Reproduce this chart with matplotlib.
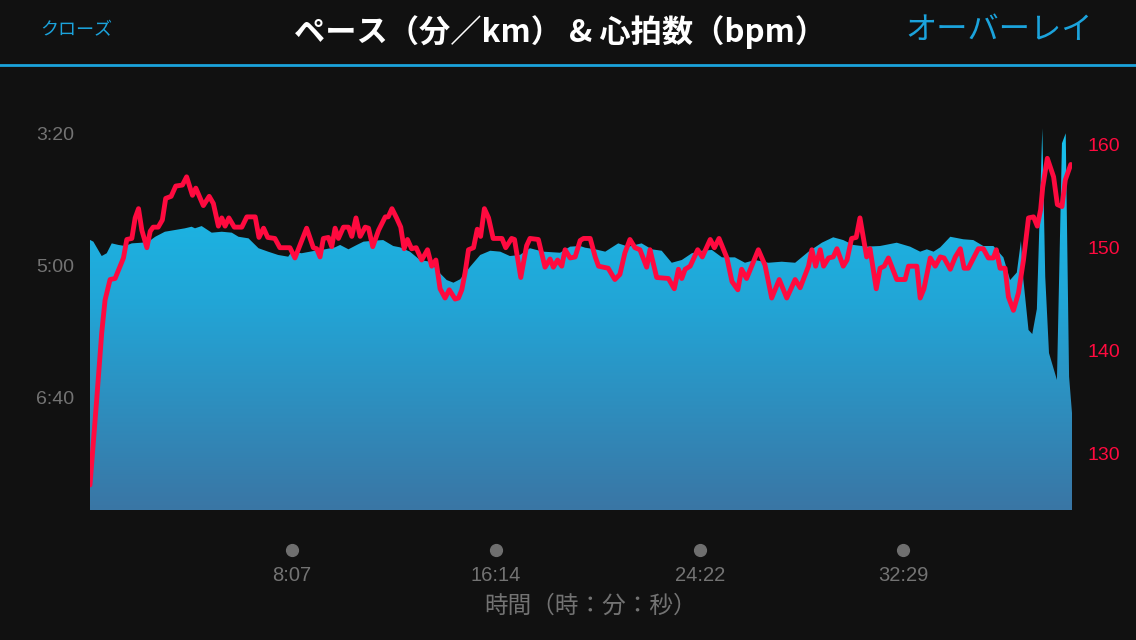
import matplotlib
matplotlib.use("Agg")
import matplotlib.pyplot as plt
import numpy as np
from matplotlib.colors import LinearSegmentedColormap
from matplotlib.lines import Line2D
from matplotlib.transforms import blended_transform_factory

# elapsed time (s) / pace (s per km)
pace_time = [4, 12, 32, 44, 56, 72, 88, 104, 128, 144, 160, 183, 207, 231, 247, 255,
             271, 295, 319, 343, 359, 383, 407, 430, 454, 478, 486, 510, 542, 566, 590,
             602, 622, 642, 658, 682, 705, 729, 745, 769, 793, 817, 841, 857, 873, 889,
             913, 937, 961, 985, 1008, 1032, 1056, 1088, 1128, 1152, 1176, 1188, 1212,
             1236, 1267, 1291, 1323, 1347, 1371, 1395, 1419, 1443, 1467, 1491, 1515,
             1546, 1570, 1594, 1626, 1658, 1690, 1722, 1754, 1781, 1805, 1829, 1861,
             1893, 1933, 1965, 1989, 2005, 2021, 2037, 2061, 2092, 2116, 2140, 2164,
             2188, 2204, 2220, 2230, 2235, 2248, 2257, 2268, 2281, 2288, 2297, 2316,
             2328, 2337, 2345, 2352]
pace_sec = [281, 282.3, 293.2, 291.1, 283.6, 284.8, 285.6, 283.6, 283.1, 282.3, 278.6,
            274.8, 273.5, 272.2, 271.0, 272.2, 270.5, 275.5, 274.8, 275.5, 278.6, 279.8,
            287.3, 289.9, 292.4, 293.7, 289.9, 291.1, 289.2, 288.1, 286.6, 284.8, 288.1,
            284.8, 282.3, 281.6, 281.1, 285.6, 286.6, 289.9, 296.2, 297.5, 306.3, 311.4,
            313.4, 310.8, 301.3, 292.4, 289.2, 289.9, 293.2, 292.4, 287.3, 289.9, 290.7,
            286.1, 285.6, 286.9, 288.1, 289.9, 283.6, 286.1, 283.6, 288.1, 289.2, 298.3,
            296.2, 291.1, 289.2, 288.6, 294.2, 294.2, 298.3, 296.2, 298.3, 297.5, 298.3,
            289.9, 283.1, 279.0, 281.1, 284.8, 286.1, 285.6, 283.1, 286.1, 289.9, 288.1,
            289.9, 286.6, 278.6, 280.5, 281.1, 285.6, 285.6, 294.2, 311.4, 305.7, 281.8,
            308.9, 349.2, 352.3, 333.3, 196.4, 308.9, 366.7, 387.1, 207.8, 200.2, 384.6,
            412.1]

# elapsed time (s) / heart rate (bpm)
hr_time = [4, 20, 32, 40, 52, 64, 76, 84, 92, 104, 112, 120, 128, 140, 148, 155, 167,
           177, 185, 198, 209, 225, 235, 249, 257, 275, 289, 299, 311, 319, 327, 336, 349,
           367, 379, 399, 408, 419, 429, 446, 458, 482, 494, 522, 538, 546, 554, 562, 574,
           582, 590, 598, 610, 622, 630, 640, 650, 662, 670, 680, 694, 710, 717, 726, 737,
           747, 755, 763, 773, 784, 797, 811, 821, 831, 841, 853, 863, 877, 885, 893, 901,
           909, 921, 930, 938, 947, 957, 968, 989, 998, 1012, 1019, 1034, 1048, 1056, 1076,
           1092, 1104, 1112, 1122, 1132, 1140, 1152, 1164, 1176, 1184, 1200, 1212, 1220,
           1243, 1259, 1271, 1283, 1295, 1307, 1319, 1335, 1343, 1359, 1387, 1401, 1411,
           1419, 1427, 1439, 1457, 1468, 1487, 1497, 1508, 1527, 1539, 1553, 1562, 1574,
           1602, 1618, 1634, 1652, 1670, 1690, 1702, 1722, 1730, 1739, 1750, 1758, 1770,
           1781, 1790, 1805, 1814, 1825, 1836, 1845, 1861, 1869, 1884, 1893, 1903, 1913,
           1933, 1953, 1961, 1981, 1989, 1998, 2013, 2025, 2037, 2046, 2061, 2073, 2085,
           2094, 2104, 2128, 2140, 2152, 2164, 2171, 2180, 2192, 2200, 2212, 2224, 2236,
           2248, 2260, 2269, 2277, 2282, 2293, 2308, 2317, 2328, 2336, 2349]
hr_bpm = [126.9, 135.2, 141.7, 144.9, 146.9, 147.0, 148.2, 149.0, 150.8, 150.9, 152.9,
          153.8, 151.7, 150.0, 151.6, 152.0, 152.0, 152.7, 154.8, 155.0, 156.0, 156.1,
          156.9, 155.1, 155.8, 154.1, 155.0, 154.3, 152.1, 152.9, 152.1, 152.9, 152.0,
          152.0, 153.0, 153.0, 151.0, 151.9, 151.0, 150.9, 150.0, 150.0, 149.0, 151.9,
          150.0, 149.9, 149.1, 150.9, 151.0, 150.1, 151.9, 150.9, 152.0, 152.0, 151.1,
          152.9, 151.1, 152.0, 151.9, 150.1, 151.7, 153.0, 153.0, 153.8, 152.9, 152.0,
          149.9, 150.8, 149.9, 150.0, 148.8, 149.8, 148.2, 148.8, 146.0, 145.1, 145.9,
          145.0, 145.1, 145.9, 147.6, 149.8, 150.0, 151.8, 151.1, 153.8, 152.9, 150.9,
          150.9, 150.0, 150.9, 150.8, 147.1, 150.2, 150.9, 150.8, 148.1, 148.9, 148.1,
          148.8, 148.2, 149.8, 149.0, 149.1, 150.7, 150.9, 150.9, 149.1, 148.2, 148.0,
          146.9, 147.4, 149.5, 150.8, 150.0, 149.8, 148.1, 149.8, 147.1, 147.0, 146.0,
          147.9, 147.0, 147.9, 148.2, 149.8, 149.1, 150.8, 150.0, 150.9, 149.0, 146.7,
          145.9, 147.9, 147.0, 149.8, 148.3, 145.1, 146.9, 145.1, 146.9, 146.1, 148.2,
          149.8, 148.2, 149.8, 148.2, 149.0, 149.1, 149.9, 148.2, 148.8, 150.9, 151.0,
          152.9, 149.1, 149.9, 146.0, 148.0, 148.2, 149.0, 146.9, 146.9, 148.2, 148.2,
          145.1, 146.0, 149.0, 148.2, 149.1, 149.0, 147.9, 149.1, 149.9, 148.0, 148.0,
          149.9, 149.9, 149.0, 149.0, 149.8, 148.0, 148.0, 145.2, 143.9, 145.6, 148.8,
          152.9, 153.0, 152.1, 153.7, 155.9, 158.7, 156.9, 154.2, 154.0, 156.6, 158.1]

pace_ticks = [200, 300, 400]
hr_ticks = [130, 140, 150, 160]
time_ticks = [487, 974, 1462, 1949]

title = "ペース（分／km） & 心拍数（bpm）"
left_btn = "クローズ"
right_btn = "オーバーレイ"
xlabel = "時間（時：分：秒）"


def mmss(s):
    s = int(round(s))
    return f"{s // 60}:{s % 60:02d}"


BG = "#111111"
CYAN = "#1ba3dc"
RED = "#ff0a3f"
GREY = "#737373"
JP = ["Noto Sans CJK JP", "DejaVu Sans"]

plt.rcParams["font.family"] = ["Liberation Sans", "Noto Sans CJK JP", "DejaVu Sans"]

W, H = 1136, 640
fig = plt.figure(figsize=(W / 100, H / 100), dpi=100, facecolor=BG)

# plot area in pixels: x 90..1072, y 100..510
ax = fig.add_axes([90 / W, 1 - 510 / H, (1072 - 90) / W, 410 / H])
ax.set_facecolor(BG)
for sp in ax.spines.values():
    sp.set_visible(False)

pace_lo, pace_hi = 485.6, 175.0   # bottom, top
hr_lo, hr_hi = 124.46, 164.38
t0, t1 = 4, 2352

# pace area with vertical gradient
fill = ax.fill_between(pace_time, pace_sec, pace_lo, facecolor="none", edgecolor="none")
cmap = LinearSegmentedColormap.from_list("pace", ["#14c6f2", "#22a5d6", "#3a76a5"])
grad = np.linspace(0, 1, 256).reshape(-1, 1)
img = ax.imshow(grad, cmap=cmap, aspect="auto", origin="upper",
                extent=(t0, t1, pace_lo, pace_hi), interpolation="bicubic")
img.set_clip_path(fill.get_paths()[0], ax.transData)

ax.set_xlim(t0, t1)
ax.set_ylim(pace_lo, pace_hi)
ax.set_yticks(pace_ticks)
ax.set_yticklabels([mmss(v) for v in pace_ticks])
ax.tick_params(axis="y", length=0, pad=11.5, labelsize=14, labelcolor=GREY)

ax.set_xticks(time_ticks)
ax.set_xticklabels([mmss(v) for v in time_ticks])
ax.tick_params(axis="x", length=0, pad=40, labelsize=14.5, labelcolor=GREY)

# tick dots under the axis
tr = blended_transform_factory(ax.transData, ax.transAxes)
ax.plot(time_ticks, [-40 / 410] * len(time_ticks), "o", color="#6f6f6f",
        markersize=8.5, transform=tr, clip_on=False)

# heart rate on the right axis
ax2 = ax.twinx()
for sp in ax2.spines.values():
    sp.set_visible(False)
ax2.plot(hr_time, hr_bpm, color=RED, lw=3.5, solid_joinstyle="round",
         solid_capstyle="round")
ax2.set_ylim(hr_lo, hr_hi)
ax2.set_yticks(hr_ticks)
ax2.tick_params(axis="y", length=0, pad=11.5, labelsize=14, labelcolor=RED)
ax2.set_xlim(t0, t1)

fig.text(591 / W, 1 - 606 / H, xlabel, ha="center", va="center", fontsize=17,
         color=GREY, family=JP)

# header
fig.text(560 / W, 1 - 32 / H, title, ha="center", va="center", fontsize=22.5,
         fontweight="bold", color="white", family=JP)
fig.text(40 / W, 1 - 30 / H, left_btn, ha="left", va="center", fontsize=13,
         color=CYAN, family=JP)
fig.text(1093 / W, 1 - 30 / H, right_btn, ha="right", va="center", fontsize=22.5,
         color=CYAN, family=JP)
fig.add_artist(Line2D([0, 1], [1 - 65 / H, 1 - 65 / H], color=CYAN, lw=2,
                      transform=fig.transFigure))

fig.savefig("out.png", dpi=100, facecolor=BG)
